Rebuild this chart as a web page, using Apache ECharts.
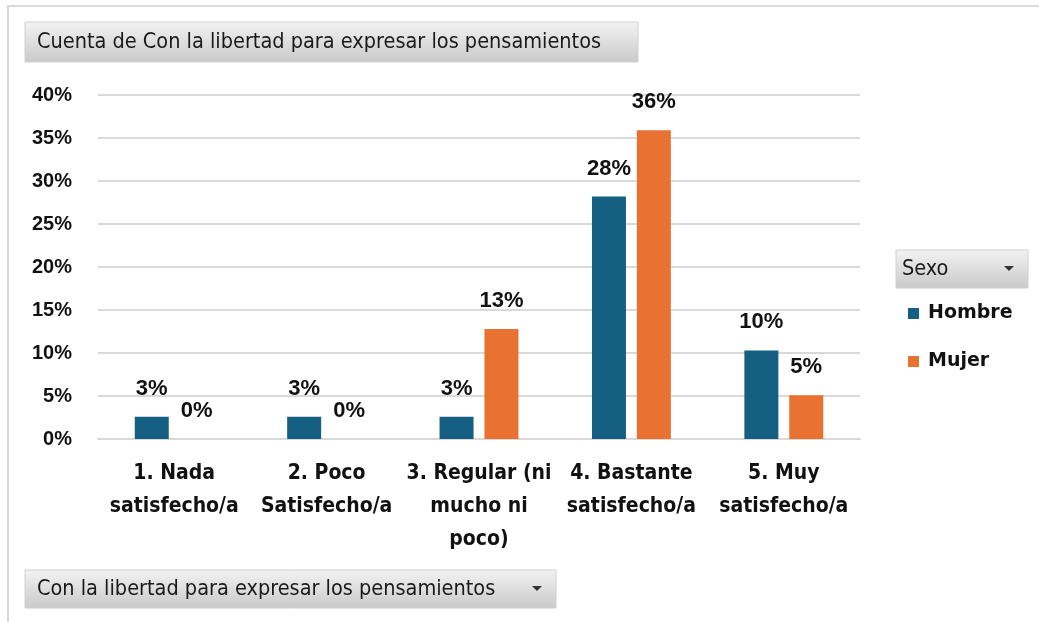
<!DOCTYPE html>
<html>
<head>
<meta charset="utf-8">
<script src="https://cdn.jsdelivr.net/npm/echarts@6/dist/echarts.min.js"></script>
<style>
  html, body { margin: 0; padding: 0; background: #fff; }
  #chart { width: 1039px; height: 622px; }
</style>
</head>
<body>
<div id="chart"></div>
<script>
// datos del gráfico
var categorias = [
  '1. Nada\nsatisfecho/a',
  '2. Poco\nSatisfecho/a',
  '3. Regular (ni\nmucho ni\npoco)',
  '4. Bastante\nsatisfecho/a',
  '5. Muy\nsatisfecho/a'
];
var hombre = [2.6, 2.6, 2.6, 28.2, 10.3];
var mujer = [0, 0, 12.8, 35.9, 5.1];
var series_nombres = ['Hombre', 'Mujer'];
var colores = ['#156082', '#E97132'];

var tituloFiltro = 'Cuenta de Con la libertad para expresar los pensamientos';
var tituloCampo = 'Con la libertad para expresar los pensamientos';
var tituloLeyenda = 'Sexo';

var narrow = "'Liberation Sans Narrow', 'DejaVu Sans Condensed', sans-serif";
var arial = "'Liberation Sans', Arial, sans-serif";

// botón gris estilo tabla dinámica
function boton(x, y, w, h, texto, flecha, dx) {
  var items = [{
    type: 'rect',
    shape: { x: x, y: y, width: w, height: h },
    style: {
      fill: new echarts.graphic.LinearGradient(0, 0, 0, 1, [
        { offset: 0, color: '#f3f3f3' },
        { offset: 1, color: '#c9c9c9' }
      ]),
      stroke: '#d0d0d0', lineWidth: 1
    }
  }, {
    type: 'text',
    x: x + dx, y: y + h / 2,
    style: { text: texto, fill: '#1a1a1a', font: '21.5px ' + narrow, verticalAlign: 'middle' }
  }];
  if (flecha) {
    items.push({
      type: 'polygon',
      shape: { points: [[x + w - 24, y + h / 2 - 3], [x + w - 14, y + h / 2 - 3], [x + w - 19, y + h / 2 + 2]] },
      style: { fill: '#333' }
    });
  }
  return items;
}

var myChart = echarts.init(document.getElementById('chart'));

var seriesData = [hombre, mujer];
var serie = [];
for (var i = 0; i < series_nombres.length; i++) {
  serie.push({
    name: series_nombres[i],
    type: 'bar',
    data: seriesData[i],
    barWidth: 34,
    barGap: '32%',
    itemStyle: { color: colores[i] },
    label: {
      show: true,
      position: 'top',
      distance: 17,
      color: '#111',
      fontWeight: 'bold',
      fontSize: 22,
      fontFamily: arial,
      formatter: function (p) { return Math.round(p.value) + '%'; }
    }
  });
}

var graficos = [{
  type: 'rect',
  shape: { x: 8, y: 6, width: 1100, height: 700 },
  style: { fill: 'none', stroke: '#d9d9d9', lineWidth: 2 },
  silent: true
}];
graficos = graficos.concat(boton(25, 22, 613, 40, tituloFiltro, false, 12));
graficos = graficos.concat(boton(25, 570, 531, 38, tituloCampo, true, 12));
graficos = graficos.concat(boton(896, 250, 132, 38, tituloLeyenda, true, 6));

var option = {
  animation: false,
  backgroundColor: '#fff',
  graphic: graficos,
  legend: {
    data: series_nombres,
    orient: 'vertical',
    left: 903,
    top: 299,
    icon: 'rect',
    itemWidth: 11,
    itemHeight: 11,
    itemGap: 29,
    textStyle: {
      fontSize: 19, fontWeight: 'bold', color: '#111',
      fontFamily: "'DejaVu Sans', sans-serif",
      padding: [0, 0, 0, 4]
    }
  },
  grid: { left: 98, right: 179, top: 95, bottom: 183 },
  xAxis: {
    type: 'category',
    data: categorias,
    axisLine: { lineStyle: { color: '#d9d9d9', width: 2 } },
    axisTick: { show: false },
    axisLabel: {
      interval: 0,
      margin: 18,
      color: '#111',
      fontWeight: 'bold',
      fontSize: 21,
      lineHeight: 33,
      fontFamily: narrow
    }
  },
  yAxis: {
    type: 'value',
    min: 0,
    max: 40,
    interval: 5,
    axisLine: { show: false },
    axisTick: { show: false },
    splitLine: { lineStyle: { color: '#d9d9d9', width: 2 } },
    axisLabel: {
      margin: 26,
      color: '#111',
      fontWeight: 'bold',
      fontSize: 20,
      fontFamily: arial,
      formatter: '{value}%'
    }
  },
  series: serie
};
myChart.setOption(option);
</script>
</body>
</html>
